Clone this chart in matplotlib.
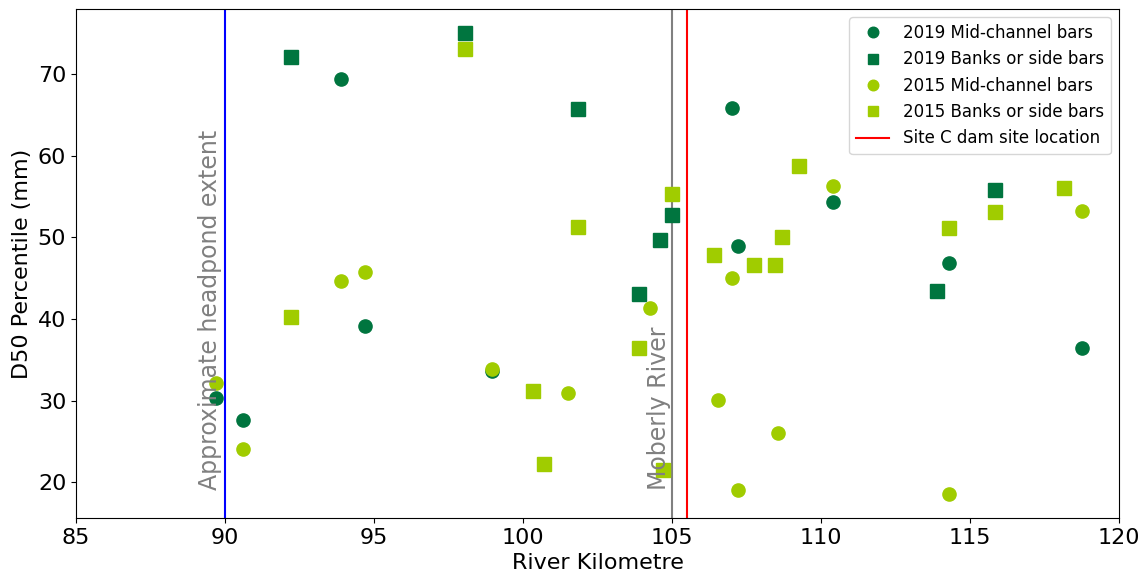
import matplotlib
matplotlib.use("Agg")
import matplotlib.pyplot as plt

# 2019 data
mid2019_km = [89.7, 90.6, 93.9, 94.7, 98.95, 107.0, 107.2, 110.4, 114.3, 118.75]
mid2019_d50 = [30.3, 27.6, 69.4, 39.1, 33.6, 65.9, 49.0, 54.4, 46.9, 36.5]
bank2019_km = [92.2, 98.05, 101.85, 103.9, 104.6, 105.0, 113.9, 115.85]
bank2019_d50 = [72.1, 75.1, 65.8, 43.1, 49.7, 52.8, 43.45, 55.8]

# 2015 data
mid2015_km = [89.7, 90.6, 93.9, 94.7, 98.95, 101.5, 104.25, 106.55, 107.0, 107.2,
              108.55, 110.4, 114.3, 118.75]
mid2015_d50 = [32.1, 24.1, 44.6, 45.7, 33.9, 30.9, 41.3, 30.1, 45.0, 19.0,
               26.0, 56.3, 18.5, 53.3]
bank2015_km = [92.2, 98.05, 100.35, 100.7, 101.85, 103.9, 104.7, 105.0, 106.4,
               107.75, 108.45, 108.7, 109.25, 114.3, 115.85, 118.15]
bank2015_d50 = [40.2, 73.1, 31.2, 22.2, 51.3, 36.5, 21.5, 55.3, 47.8,
                46.6, 46.6, 50.0, 58.7, 51.2, 53.1, 56.0]

headpond_km = 90
moberly_km = 105
damsite_km = 105.5

dark = "#00753f"
light = "#a0cc00"

fig = plt.figure(figsize=(11.46, 5.75), dpi=100)
ax = fig.add_axes([0.0663, 0.0991, 0.9101, 0.8852])

ax.axvline(headpond_km, color="blue", lw=1.5, zorder=1)
ax.axvline(moberly_km, color="grey", lw=1.5, zorder=1)

ms = 9.5
ax.plot(mid2019_km, mid2019_d50, "o", color=dark, ms=ms, ls="", label="2019 Mid-channel bars", zorder=3)
ax.plot(bank2019_km, bank2019_d50, "s", color=dark, ms=ms, ls="", label="2019 Banks or side bars", zorder=3)
ax.plot(mid2015_km, mid2015_d50, "o", color=light, ms=ms, ls="", label="2015 Mid-channel bars", zorder=3)
ax.plot(bank2015_km, bank2015_d50, "s", color=light, ms=ms, ls="", label="2015 Banks or side bars", zorder=3)

ax.axvline(damsite_km, color="red", lw=1.5, label="Site C dam site location", zorder=2)

ax.text(89.5, 19.0, "Approximate headpond extent", rotation=90, color="grey",
        fontsize=17, ha="center", va="bottom", zorder=4)
ax.text(104.55, 19.0, "Moberly River", rotation=90, color="grey",
        fontsize=17, ha="center", va="bottom", zorder=4)

ax.set_xlim(85, 120)
ax.set_ylim(15.6, 78)
ax.set_xticks([85, 90, 95, 100, 105, 110, 115, 120])
ax.set_yticks([20, 30, 40, 50, 60, 70])
ax.tick_params(labelsize=16)
ax.set_xlabel("River Kilometre", fontsize=16, labelpad=4)
ax.set_ylabel("D50 Percentile (mm)", fontsize=16, labelpad=4)

ax.legend(loc="upper right", fontsize=12, numpoints=1, markerscale=0.8)

fig.savefig("out.png", dpi=100)
